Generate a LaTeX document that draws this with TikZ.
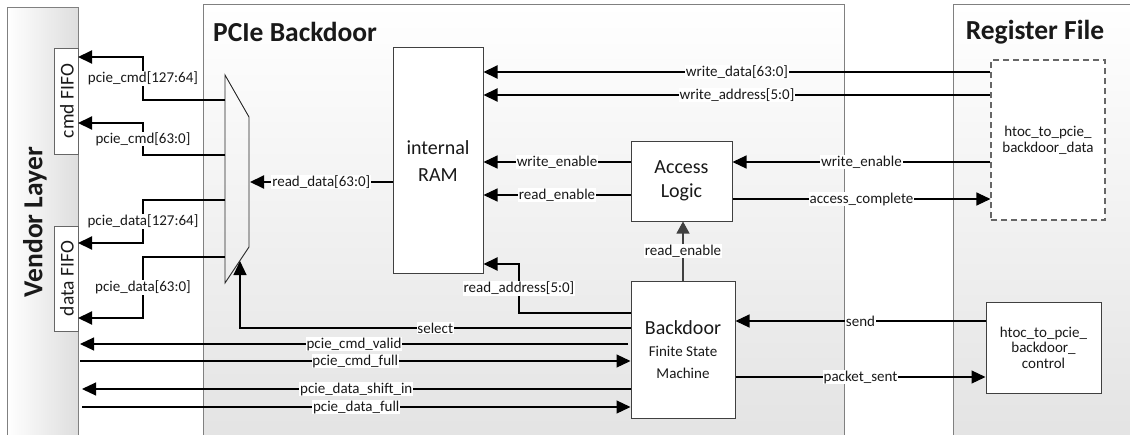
\documentclass[tikz,border=0pt]{standalone}
\usepackage{fontspec}
\setmainfont{Carlito}
\usetikzlibrary{arrows.meta}

\begin{document}
\begin{tikzpicture}[x=1pt,y=-1pt,
  panel/.style={draw=black!50, line width=0.8pt},
  title/.style={font=\fontsize{27.5}{30}\selectfont\bfseries, text=black!90, inner sep=0pt},
  blk/.style={draw=black!75, fill=white, line width=1pt, inner sep=0pt, align=center,
              font=\fontsize{20}{26}\selectfont, text=black!90},
  fifo/.style={draw=black!60, fill=white, line width=0.8pt, inner sep=0pt,
               minimum width=24pt},
  fifotext/.style={font=\fontsize{19.5}{20}\selectfont, text=black!90, inner sep=0pt},
  bus/.style={line width=2pt},
  sig/.style={line width=1.1pt},
  arr/.style={-{Triangle[length=14pt,width=13pt]}},
  lbl/.style={fill=white, inner sep=0.8pt, font=\fontsize{15}{15}\selectfont, text=black!90},
]
\useasboundingbox (0,0) rectangle (1130,434);
\clip (0,0) rectangle (1130,434);

% ---- layer panels ----
\shadedraw[panel, left color=white, right color=black!13] (7,7) rectangle (78,445);
\shadedraw[panel, top color=white, bottom color=black!11] (203,4) rectangle (844,445);
\shadedraw[panel, top color=white, bottom color=black!11] (953,4) rectangle (1140,445);

\node[title, rotate=90] (tvendor) at (35,222) {Vendor Layer};
\node[title, anchor=west] (tpcie) at (213,32) {PCIe Backdoor};
\node[title] (treg) at (1035,32) {Register File};

% ---- FIFOs in the vendor layer ----
\node[fifo, minimum height=106pt] (cmdfifo) at (66,101) {};
\node[fifotext, rotate=90] (tcmd) at (67,101) {cmd FIFO};
\node[fifo, minimum height=105pt] (datafifo) at (66,278.5) {};
\node[fifotext, rotate=90] (tdata) at (67,278.5) {data FIFO};

% ---- multiplexer ----
\draw[line width=0.9pt, draw=black!85] (225,75) -- (249,117) -- (249,247) -- (225,283) -- cycle;
\coordinate (mx1) at (225,100);
\coordinate (mx2) at (225,155);
\coordinate (mx3) at (225,200);
\coordinate (mx4) at (225,257);
\coordinate (mxout) at (250,182);
\coordinate (mxsel) at (240,261);

% ---- blocks ----
\node[blk, minimum width=90pt, minimum height=226pt] (ram) at (438,160) {};
\node[blk, draw=none, fill=none, font=\fontsize{20}{27}\selectfont] (tram) at (438,161) {internal\\RAM};
\node[blk, minimum width=101pt, minimum height=80pt, font=\fontsize{20}{24}\selectfont] (acc) at (681.5,181) {Access\\Logic};
\node[blk, minimum width=104pt, minimum height=137pt] (fsm) at (683,349.5) {};
\node[blk, draw=none, fill=none, font=\fontsize{15}{22}\selectfont] (tfsm) at (683,350)
  {{\fontsize{20}{22}\selectfont Backdoor}\\Finite State\\Machine};
\node[blk, dashed, dash pattern=on 6pt off 4pt, draw=black!60, line width=1.1pt,
      minimum width=114pt, minimum height=160pt, font=\fontsize{15}{16}\selectfont]
  (rfdata) at (1048,140) {htoc\_to\_pcie\_\\backdoor\_data};
\node[blk, minimum width=115pt, minimum height=91pt, font=\fontsize{15}{15.5}\selectfont]
  (rfctrl) at (1043.5,347.5) {htoc\_to\_pcie\_\\backdoor\_\\control};

% ---- pins on the vendor layer edge ----
\coordinate (cf1) at (78,57);
\coordinate (cf2) at (78,123);
\coordinate (df1) at (78,243);
\coordinate (df2) at (78,318);
\coordinate (v1) at (80,344);
\coordinate (v2) at (80,361);
\coordinate (v3) at (82,389);
\coordinate (v4) at (82,407);

% ---- mux outputs to the FIFOs ----
\draw[bus,arr] (mx1) -- (143,100) -- node[lbl]{pcie\_cmd[127:64]} (143,57) -- (cf1);
\draw[bus,arr] (mx2) -- (143,155) -- node[lbl]{pcie\_cmd[63:0]} (143,123) -- (cf2);
\draw[bus,arr] (mx3) -- (143,200) -- node[lbl]{pcie\_data[127:64]} (143,243) -- (df1);
\draw[bus,arr] (mx4) -- (143,257) -- node[lbl]{pcie\_data[63:0]} (143,318) -- (df2);

% ---- RAM read path ----
\draw[bus,arr] (ram.west |- mxout) -- node[lbl]{read\_data[63:0]} (mxout);
\draw[sig,arr] (fsm.west |- 0,328) -- node[lbl]{select} (240,328) -- (mxsel);

% ---- FSM handshake with the vendor FIFOs ----
\draw[sig,arr] (628,344) -- node[lbl]{pcie\_cmd\_valid} (v1);
\draw[sig,arr] (v2) -- node[lbl]{pcie\_cmd\_full} (fsm.west |- v2);
\draw[sig,arr] (fsm.west |- v3) -- node[lbl]{pcie\_data\_shift\_in} (v3);
\draw[sig,arr] (v4) -- node[lbl]{pcie\_data\_full} (fsm.west |- v4);

% ---- register file writes into RAM ----
\draw[bus,arr] (rfdata.west |- 0,72) -- node[lbl]{write\_data[63:0]} (ram.east |- 0,72);
\draw[bus,arr] (rfdata.west |- 0,95) -- node[lbl]{write\_address[5:0]} (ram.east |- 0,95);

% ---- access logic ----
\draw[sig,arr] (acc.west |- 0,162) -- node[lbl]{write\_enable} (ram.east |- 0,162);
\draw[sig,arr] (acc.west |- 0,195) -- node[lbl]{read\_enable} (ram.east |- 0,195);
\draw[sig,arr] (rfdata.west |- 0,162) -- node[lbl]{write\_enable} (acc.east |- 0,162);
\draw[sig,arr] (acc.east |- 0,199) -- node[lbl]{access\_complete} (rfdata.west |- 0,199);
\draw[sig, draw=black!75, -{Triangle[length=12pt,width=13pt]}] (fsm.north) -- node[lbl]{read\_enable} (acc.south -| fsm.north);

% ---- FSM to RAM and control register ----
\draw[bus,arr] (fsm.west |- 0,313) -- (519,313) -- node[lbl]{read\_address[5:0]} (519,264) -- (ram.east |- 0,264);
\draw[sig,arr] (rfctrl.west |- 0,321) -- node[lbl]{send} (fsm.east |- 0,321);
\draw[sig,arr] (fsm.east |- 0,377) -- node[lbl]{packet\_sent} (rfctrl.west |- 0,377);
\end{tikzpicture}
\end{document}
